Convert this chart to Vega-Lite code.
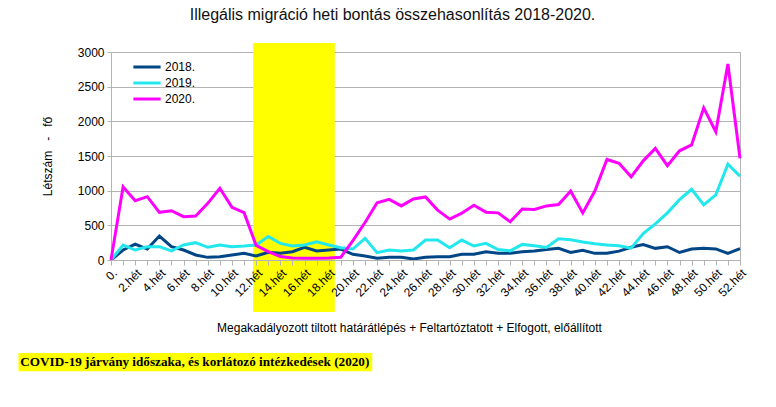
{
  "$schema": "https://vega.github.io/schema/vega-lite/v6.json",
  "width": 629,
  "height": 208,
  "autosize": {"type": "none"},
  "padding": {"left": 111, "top": 52, "right": 36, "bottom": 147},
  "background": "white",
  "config": {
    "view": {"stroke": "#b3b3b3", "strokeWidth": 1},
    "font": "Liberation Sans",
    "legend": {"padding": 0}
  },
  "title": {
    "text": "Illegális migráció heti bontás összehasonlítás 2018-2020.",
    "font": "Liberation Sans",
    "fontSize": 16,
    "fontWeight": "normal",
    "color": "#111111",
    "anchor": "middle",
    "dx": -33,
    "offset": 20
  },
  "datasets": {
    "weekly": [
      {"w":0,"year":"2018.","v":0},{"w":1,"year":"2018.","v":144},{"w":2,"year":"2018.","v":230},{"w":3,"year":"2018.","v":158},{"w":4,"year":"2018.","v":346},{"w":5,"year":"2018.","v":192},{"w":6,"year":"2018.","v":144},{"w":7,"year":"2018.","v":72},{"w":8,"year":"2018.","v":38},{"w":9,"year":"2018.","v":48},{"w":10,"year":"2018.","v":72},{"w":11,"year":"2018.","v":96},{"w":12,"year":"2018.","v":58},{"w":13,"year":"2018.","v":110},{"w":14,"year":"2018.","v":96},{"w":15,"year":"2018.","v":120},{"w":16,"year":"2018.","v":183},{"w":17,"year":"2018.","v":130},{"w":18,"year":"2018.","v":144},{"w":19,"year":"2018.","v":158},{"w":20,"year":"2018.","v":82},{"w":21,"year":"2018.","v":58},{"w":22,"year":"2018.","v":24},{"w":23,"year":"2018.","v":38},{"w":24,"year":"2018.","v":38},{"w":25,"year":"2018.","v":15},{"w":26,"year":"2018.","v":38},{"w":27,"year":"2018.","v":48},{"w":28,"year":"2018.","v":48},{"w":29,"year":"2018.","v":82},{"w":30,"year":"2018.","v":82},{"w":31,"year":"2018.","v":120},{"w":32,"year":"2018.","v":96},{"w":33,"year":"2018.","v":96},{"w":34,"year":"2018.","v":120},{"w":35,"year":"2018.","v":130},{"w":36,"year":"2018.","v":150},{"w":37,"year":"2018.","v":168},{"w":38,"year":"2018.","v":108},{"w":39,"year":"2018.","v":140},{"w":40,"year":"2018.","v":96},{"w":41,"year":"2018.","v":96},{"w":42,"year":"2018.","v":128},{"w":43,"year":"2018.","v":183},{"w":44,"year":"2018.","v":222},{"w":45,"year":"2018.","v":168},{"w":46,"year":"2018.","v":192},{"w":47,"year":"2018.","v":108},{"w":48,"year":"2018.","v":158},{"w":49,"year":"2018.","v":168},{"w":50,"year":"2018.","v":160},{"w":51,"year":"2018.","v":96},{"w":52,"year":"2018.","v":163},
      {"w":0,"year":"2019.","v":0},{"w":1,"year":"2019.","v":216},{"w":2,"year":"2019.","v":144},{"w":3,"year":"2019.","v":192},{"w":4,"year":"2019.","v":192},{"w":5,"year":"2019.","v":130},{"w":6,"year":"2019.","v":216},{"w":7,"year":"2019.","v":250},{"w":8,"year":"2019.","v":183},{"w":9,"year":"2019.","v":216},{"w":10,"year":"2019.","v":192},{"w":11,"year":"2019.","v":202},{"w":12,"year":"2019.","v":216},{"w":13,"year":"2019.","v":340},{"w":14,"year":"2019.","v":240},{"w":15,"year":"2019.","v":202},{"w":16,"year":"2019.","v":216},{"w":17,"year":"2019.","v":264},{"w":18,"year":"2019.","v":216},{"w":19,"year":"2019.","v":178},{"w":20,"year":"2019.","v":158},{"w":21,"year":"2019.","v":312},{"w":22,"year":"2019.","v":106},{"w":23,"year":"2019.","v":144},{"w":24,"year":"2019.","v":130},{"w":25,"year":"2019.","v":144},{"w":26,"year":"2019.","v":288},{"w":27,"year":"2019.","v":288},{"w":28,"year":"2019.","v":178},{"w":29,"year":"2019.","v":288},{"w":30,"year":"2019.","v":202},{"w":31,"year":"2019.","v":240},{"w":32,"year":"2019.","v":150},{"w":33,"year":"2019.","v":132},{"w":34,"year":"2019.","v":225},{"w":35,"year":"2019.","v":205},{"w":36,"year":"2019.","v":182},{"w":37,"year":"2019.","v":305},{"w":38,"year":"2019.","v":293},{"w":39,"year":"2019.","v":260},{"w":40,"year":"2019.","v":235},{"w":41,"year":"2019.","v":216},{"w":42,"year":"2019.","v":204},{"w":43,"year":"2019.","v":170},{"w":44,"year":"2019.","v":380},{"w":45,"year":"2019.","v":520},{"w":46,"year":"2019.","v":680},{"w":47,"year":"2019.","v":870},{"w":48,"year":"2019.","v":1020},{"w":49,"year":"2019.","v":795},{"w":50,"year":"2019.","v":940},{"w":51,"year":"2019.","v":1382},{"w":52,"year":"2019.","v":1210},
      {"w":0,"year":"2020.","v":0},{"w":1,"year":"2020.","v":1055},{"w":2,"year":"2020.","v":855},{"w":3,"year":"2020.","v":913},{"w":4,"year":"2020.","v":688},{"w":5,"year":"2020.","v":711},{"w":6,"year":"2020.","v":625},{"w":7,"year":"2020.","v":635},{"w":8,"year":"2020.","v":817},{"w":9,"year":"2020.","v":1034},{"w":10,"year":"2020.","v":760},{"w":11,"year":"2020.","v":682},{"w":12,"year":"2020.","v":210},{"w":13,"year":"2020.","v":120},{"w":14,"year":"2020.","v":50},{"w":15,"year":"2020.","v":30},{"w":16,"year":"2020.","v":25},{"w":17,"year":"2020.","v":25},{"w":18,"year":"2020.","v":30},{"w":19,"year":"2020.","v":40},{"w":20,"year":"2020.","v":280},{"w":21,"year":"2020.","v":540},{"w":22,"year":"2020.","v":825},{"w":23,"year":"2020.","v":875},{"w":24,"year":"2020.","v":780},{"w":25,"year":"2020.","v":880},{"w":26,"year":"2020.","v":910},{"w":27,"year":"2020.","v":720},{"w":28,"year":"2020.","v":590},{"w":29,"year":"2020.","v":675},{"w":30,"year":"2020.","v":790},{"w":31,"year":"2020.","v":690},{"w":32,"year":"2020.","v":680},{"w":33,"year":"2020.","v":550},{"w":34,"year":"2020.","v":735},{"w":35,"year":"2020.","v":730},{"w":36,"year":"2020.","v":780},{"w":37,"year":"2020.","v":800},{"w":38,"year":"2020.","v":995},{"w":39,"year":"2020.","v":680},{"w":40,"year":"2020.","v":995},{"w":41,"year":"2020.","v":1450},{"w":42,"year":"2020.","v":1395},{"w":43,"year":"2020.","v":1200},{"w":44,"year":"2020.","v":1430},{"w":45,"year":"2020.","v":1610},{"w":46,"year":"2020.","v":1360},{"w":47,"year":"2020.","v":1575},{"w":48,"year":"2020.","v":1660},{"w":49,"year":"2020.","v":2195},{"w":50,"year":"2020.","v":1850},{"w":51,"year":"2020.","v":2826},{"w":52,"year":"2020.","v":1466}
    ],
    "covid": [{"start": 11.75, "end": 18.5, "note": "COVID-19 járvány időszaka, és korlátozó intézkedések (2020)"}]
  },
  "encoding": {
    "x": {
      "type": "quantitative",
      "scale": {"domain": [0, 52], "nice": false, "zero": false},
      "axis": {
        "values": [0,1,2,3,4,5,6,7,8,9,10,11,12,13,14,15,16,17,18,19,20,21,22,23,24,25,26,27,28,29,30,31,32,33,34,35,36,37,38,39,40,41,42,43,44,45,46,47,48,49,50,51,52],
        "labelExpr": "datum.value % 2 == 0 ? (datum.value == 0 ? '0.' : datum.value + '.hét') : ''",
        "labelAngle": -45,
        "labelFontSize": 12,
        "labelColor": "#000000",
        "labelFont": "Liberation Sans",
        "labelOverlap": false,
        "labelPadding": 2,
        "tickSize": 5,
        "tickColor": "#b3b3b3",
        "domainColor": "#b3b3b3",
        "grid": false,
        "zindex": 1,
        "title": "Megakadályozott tiltott határátlépés + Feltartóztatott + Elfogott, előállított",
        "titleFont": "Liberation Sans",
        "titleFontSize": 12,
        "titleFontWeight": "normal",
        "titleColor": "#000000",
        "titleX": 298,
        "titleY": 62,
        "titleAlign": "center",
        "titleBaseline": "top"
      }
    },
    "y": {
      "type": "quantitative",
      "scale": {"domain": [0, 3000], "nice": false},
      "axis": {
        "values": [0, 500, 1000, 1500, 2000, 2500, 3000],
        "format": "d",
        "labelFontSize": 12,
        "labelColor": "#000000",
        "labelFont": "Liberation Sans",
        "labelPadding": 3,
        "tickSize": 4,
        "tickColor": "#b3b3b3",
        "domainColor": "#b3b3b3",
        "grid": true,
        "gridColor": "#b3b3b3",
        "zindex": 0,
        "title": "Létszám\u00a0\u00a0 -\u00a0\u00a0 fő",
        "titleFont": "Liberation Sans",
        "titleFontSize": 12,
        "titleFontWeight": "normal",
        "titleColor": "#000000",
        "titleAngle": -90,
        "titleX": -64,
        "titleY": 104,
        "titleAlign": "center",
        "titleBaseline": "middle"
      }
    }
  },
  "layer": [
    {
      "data": {"name": "covid"},
      "mark": {"type": "rect", "color": "#ffff00", "opacity": 1},
      "encoding": {
        "x": {"field": "start", "type": "quantitative"},
        "x2": {"field": "end"},
        "y": {"datum": -750, "type": "quantitative"},
        "y2": {"datum": 3130}
      }
    },
    {
      "data": {"name": "weekly"},
      "mark": {"type": "line", "strokeWidth": 3, "strokeJoin": "miter"},
      "encoding": {
        "x": {"field": "w", "type": "quantitative"},
        "y": {"field": "v", "type": "quantitative"},
        "color": {
          "field": "year",
          "type": "nominal",
          "scale": {"domain": ["2018.", "2019.", "2020."], "range": ["#004586", "#22e8ee", "#ff00ff"]},
          "legend": {
            "title": null,
            "orient": "none",
            "legendX": 26,
            "legendY": 5,
            "symbolType": "M-1.6,0L1.6,0",
            "symbolStrokeWidth": 3,
            "symbolSize": 289,
            "labelFontSize": 12,
            "labelFont": "Liberation Sans",
            "labelColor": "#000000",
            "rowPadding": 0,
            "labelOffset": 8
          }
        }
      }
    },
    {
      "data": {"name": "covid"},
      "mark": {"type": "rect", "color": "#ffff00"},
      "encoding": {
        "x": {"datum": -7.65, "type": "quantitative"},
        "x2": {"datum": 21.6},
        "y": {"datum": -1340, "type": "quantitative"},
        "y2": {"datum": -1605}
      }
    },
    {
      "data": {"name": "covid"},
      "mark": {"type": "text", "align": "left", "baseline": "middle", "font": "Liberation Serif", "fontWeight": "bold", "fontSize": 13.2, "color": "#000000"},
      "encoding": {
        "x": {"datum": -7.5, "type": "quantitative"},
        "y": {"datum": -1470, "type": "quantitative"},
        "text": {"field": "note"}
      }
    }
  ]
}
